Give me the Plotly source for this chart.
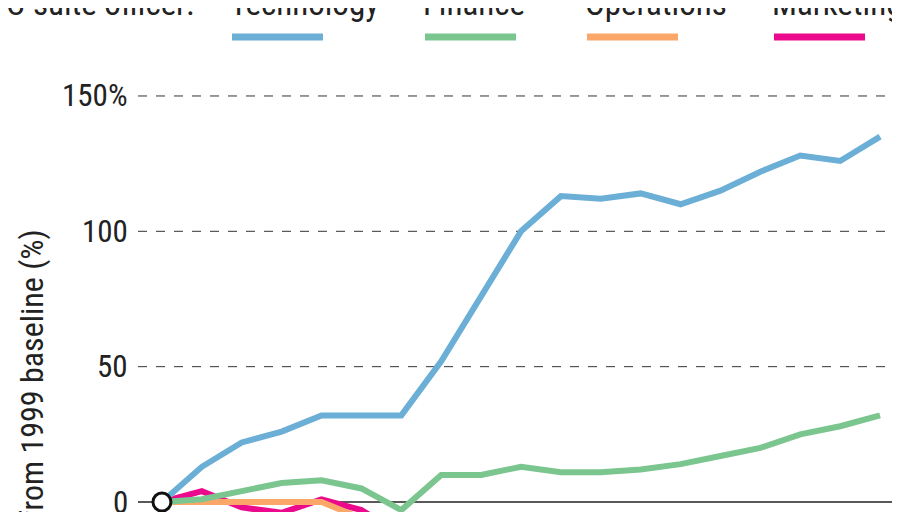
import plotly.graph_objects as go

years = list(range(1999, 2018))
technology = [0, 13, 22, 26, 32, 32, 32, 52, 76, 100, 113, 112, 114, 110, 115, 122, 128, 126, 135]
finance = [0, 1, 4, 7, 8, 5, -3, 10, 10, 13, 11, 11, 12, 14, 17, 20, 25, 28, 32]
operations = [0, 0, 0, 0, 0, -6, -12, -15, -18, -20, -22, -23, -24, -25, -26, -27, -28, -29, -30]
marketing = [0, 4, -2, -4, 1, -3, -12, -16, -20, -22, -24, -25, -26, -27, -28, -29, -30, -31, -32]
series = [("Technology", technology, "#6BAED6"), ("Finance", finance, "#7BC58F"),
          ("Operations", operations, "#FCA76A"), ("Marketing", marketing, "#EC0A8C")]
ytick_vals = [0, 50, 100, 150]
ytick_text = ["0", "50", "100", "150%"]

FONT = "Liberation Sans Narrow, Roboto Condensed, Arial Narrow, sans-serif"
W, H, L, R = 900, 512, 130, 10
def px(x):
    return (x - L) / (W - L - R)
def py(y):
    return 1 - y / H

fig = go.Figure()
for name, vals, col in series[::-1]:
    fig.add_trace(go.Scatter(x=years, y=vals, mode="lines", name=name,
                             line=dict(color=col, width=6), showlegend=False))
fig.add_trace(go.Scatter(x=[years[0]], y=[0], mode="markers", showlegend=False,
                         marker=dict(size=18, color="white", line=dict(color="#111", width=3))))

shapes = []
for v in ytick_vals[1:]:
    shapes.append(dict(type="line", xref="paper", yref="y", x0=0, x1=1, y0=v, y1=v,
                       line=dict(color="#333", width=1, dash="dash"), layer="below"))
shapes.append(dict(type="line", xref="paper", yref="y", x0=0, x1=1, y0=0, y1=0,
                   line=dict(color="#222", width=1.5), layer="below"))
annotations = []
for v, t in zip(ytick_vals, ytick_text):
    annotations.append(dict(x=px(122), xref="paper", y=v, yref="y", text=t, showarrow=False,
                            xanchor="right", yanchor="middle", font=dict(family=FONT, size=31, color="#222")))
annotations.append(dict(x=px(3), xref="paper", y=28, yref="y", text="Change from 1999 baseline (%)",
                        textangle=-90, showarrow=False, xanchor="left", yanchor="middle",
                        font=dict(family=FONT, size=32, color="#222")))
annotations.append(dict(x=px(-4), xref="paper", y=py(17), yref="paper", text="C-suite officer:",
                        showarrow=False, xanchor="left", yanchor="bottom",
                        font=dict(family=FONT, size=33, color="#222")))
leg_x = [220, 413, 575, 762]
for (name, vals, col), lx in zip(series, leg_x):
    annotations.append(dict(x=px(lx), xref="paper", y=py(17), yref="paper", text=name,
                            showarrow=False, xanchor="left", yanchor="bottom",
                            font=dict(family=FONT, size=33, color="#222")))
    shapes.append(dict(type="line", xref="paper", yref="paper", x0=px(lx + 4), x1=px(lx + 95),
                       y0=py(29), y1=py(29), line=dict(color=col, width=7)))

fig.update_layout(
    width=W, height=H, margin=dict(l=L, r=R, t=0, b=0),
    paper_bgcolor="white", plot_bgcolor="white",
    xaxis=dict(range=[1998.4, 2017.45], visible=False),
    yaxis=dict(range=[-6.65, 182.5], visible=False),
    shapes=shapes, annotations=annotations,
)
fig.write_html("out.html")
